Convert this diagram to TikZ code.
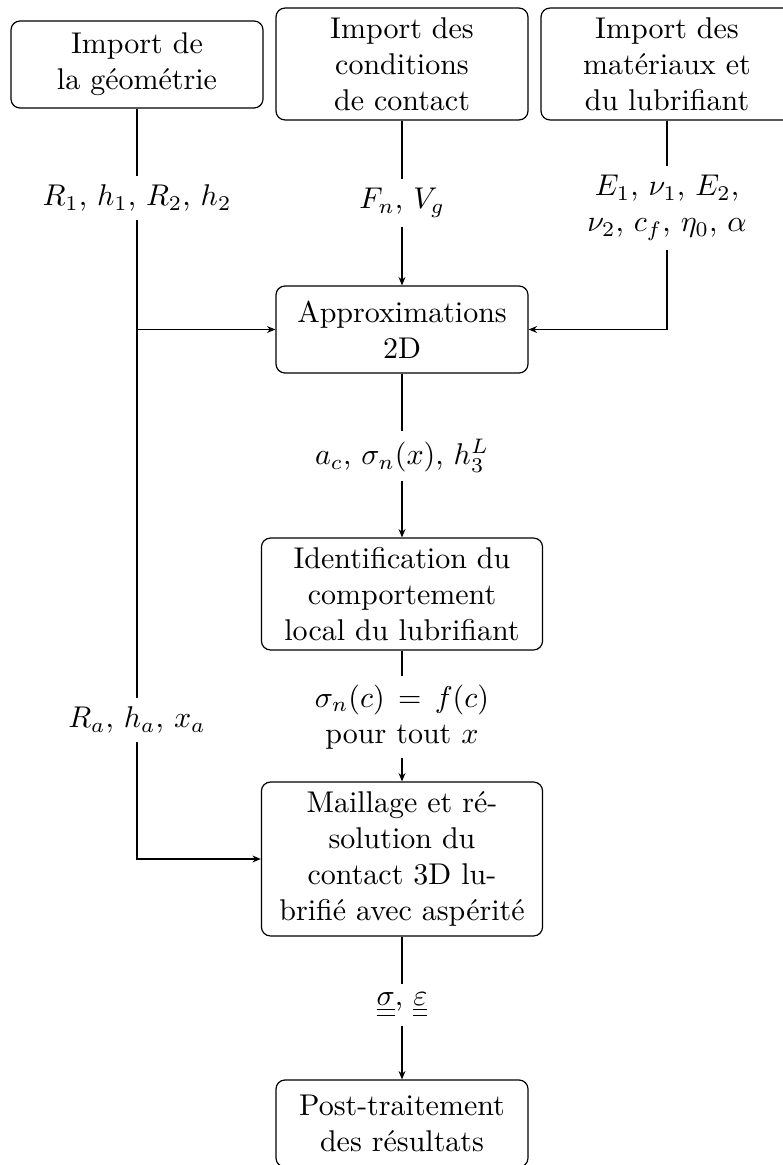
\documentclass[tikz,border=0pt]{standalone}
\usetikzlibrary{arrows.meta}
\begin{document}
\begin{tikzpicture}[x=0.3333pt,y=-0.3333pt,
  box/.style={draw,rounded corners=3pt,align=center,inner sep=2pt,minimum width=84pt,minimum height=29pt},
  tall/.style={box,minimum height=37.3pt},
  wide/.style={box,minimum width=93.7pt},
  lab/.style={align=center,inner sep=2.8pt},
  >={Stealth[length=2.8pt,width=2.3pt]}]
\useasboundingbox (0,0) rectangle (782,1165);
\node[box]  (g1) at (137,64.5) {Import de\\la géométrie};
\node[tall] (g2) at (402,64) {Import des\\conditions\\de contact};
\node[tall] (g3) at (667,64) {Import des\\matériaux et\\du lubrifiant};
\node[box]  (ap) at (402,329.5) {Approximations\\2D};
\node[wide,minimum height=37.3pt] (id) at (402,594) {Identification du\\comportement\\local du lubrifiant};
\node[wide,minimum height=51.3pt] (ma) at (402,859) {Maillage et ré-\\solution du\\contact 3D lu-\\brifié avec aspérité};
\node[box]  (po) at (402,1123.5) {Post-traitement\\des résultats};
\node[lab] (l1) at (137,198) {$R_1$, $h_1$, $R_2$, $h_2$};
\node[lab] (l2) at (402,203) {$F_n$, $V_g$};
\node[lab] (l3) at (667,208) {$E_1$, $\nu_1$, $E_2$,\\$\nu_2$, $c_f$, $\eta_0$, $\alpha$};
\node[lab] (l4) at (402,456) {$a_c$, $\sigma_n(x)$, $h_3^L$};
\node[lab] (l5) at (402,717) {$\sigma_n(c)\,=\,f(c)$\\pour tout $x$};
\node[lab] (l6) at (137,720) {$R_a$, $h_a$, $x_a$};
\node[lab] (l7) at (402,1005) {$\underline{\underline{\sigma}}$, $\underline{\underline{\varepsilon}}$};
\coordinate (j1) at (137,329.5);
\coordinate (j2) at (137,859);
\draw (g1) -- (l1);
\draw (l1) -- (l6);
\draw[->] (j1) -- (ap);
\draw[->] (l6) |- (ma);
\draw (g2) -- (l2);
\draw[->] (l2) -- (ap);
\draw (g3) -- (l3);
\draw[->] (l3) |- (ap);
\draw (ap) -- (l4);
\draw[->] (l4) -- (id);
\draw (id) -- (l5);
\draw[->] (l5) -- (ma);
\draw (ma) -- (l7);
\draw[->] (l7) -- (po);
\end{tikzpicture}
\end{document}
